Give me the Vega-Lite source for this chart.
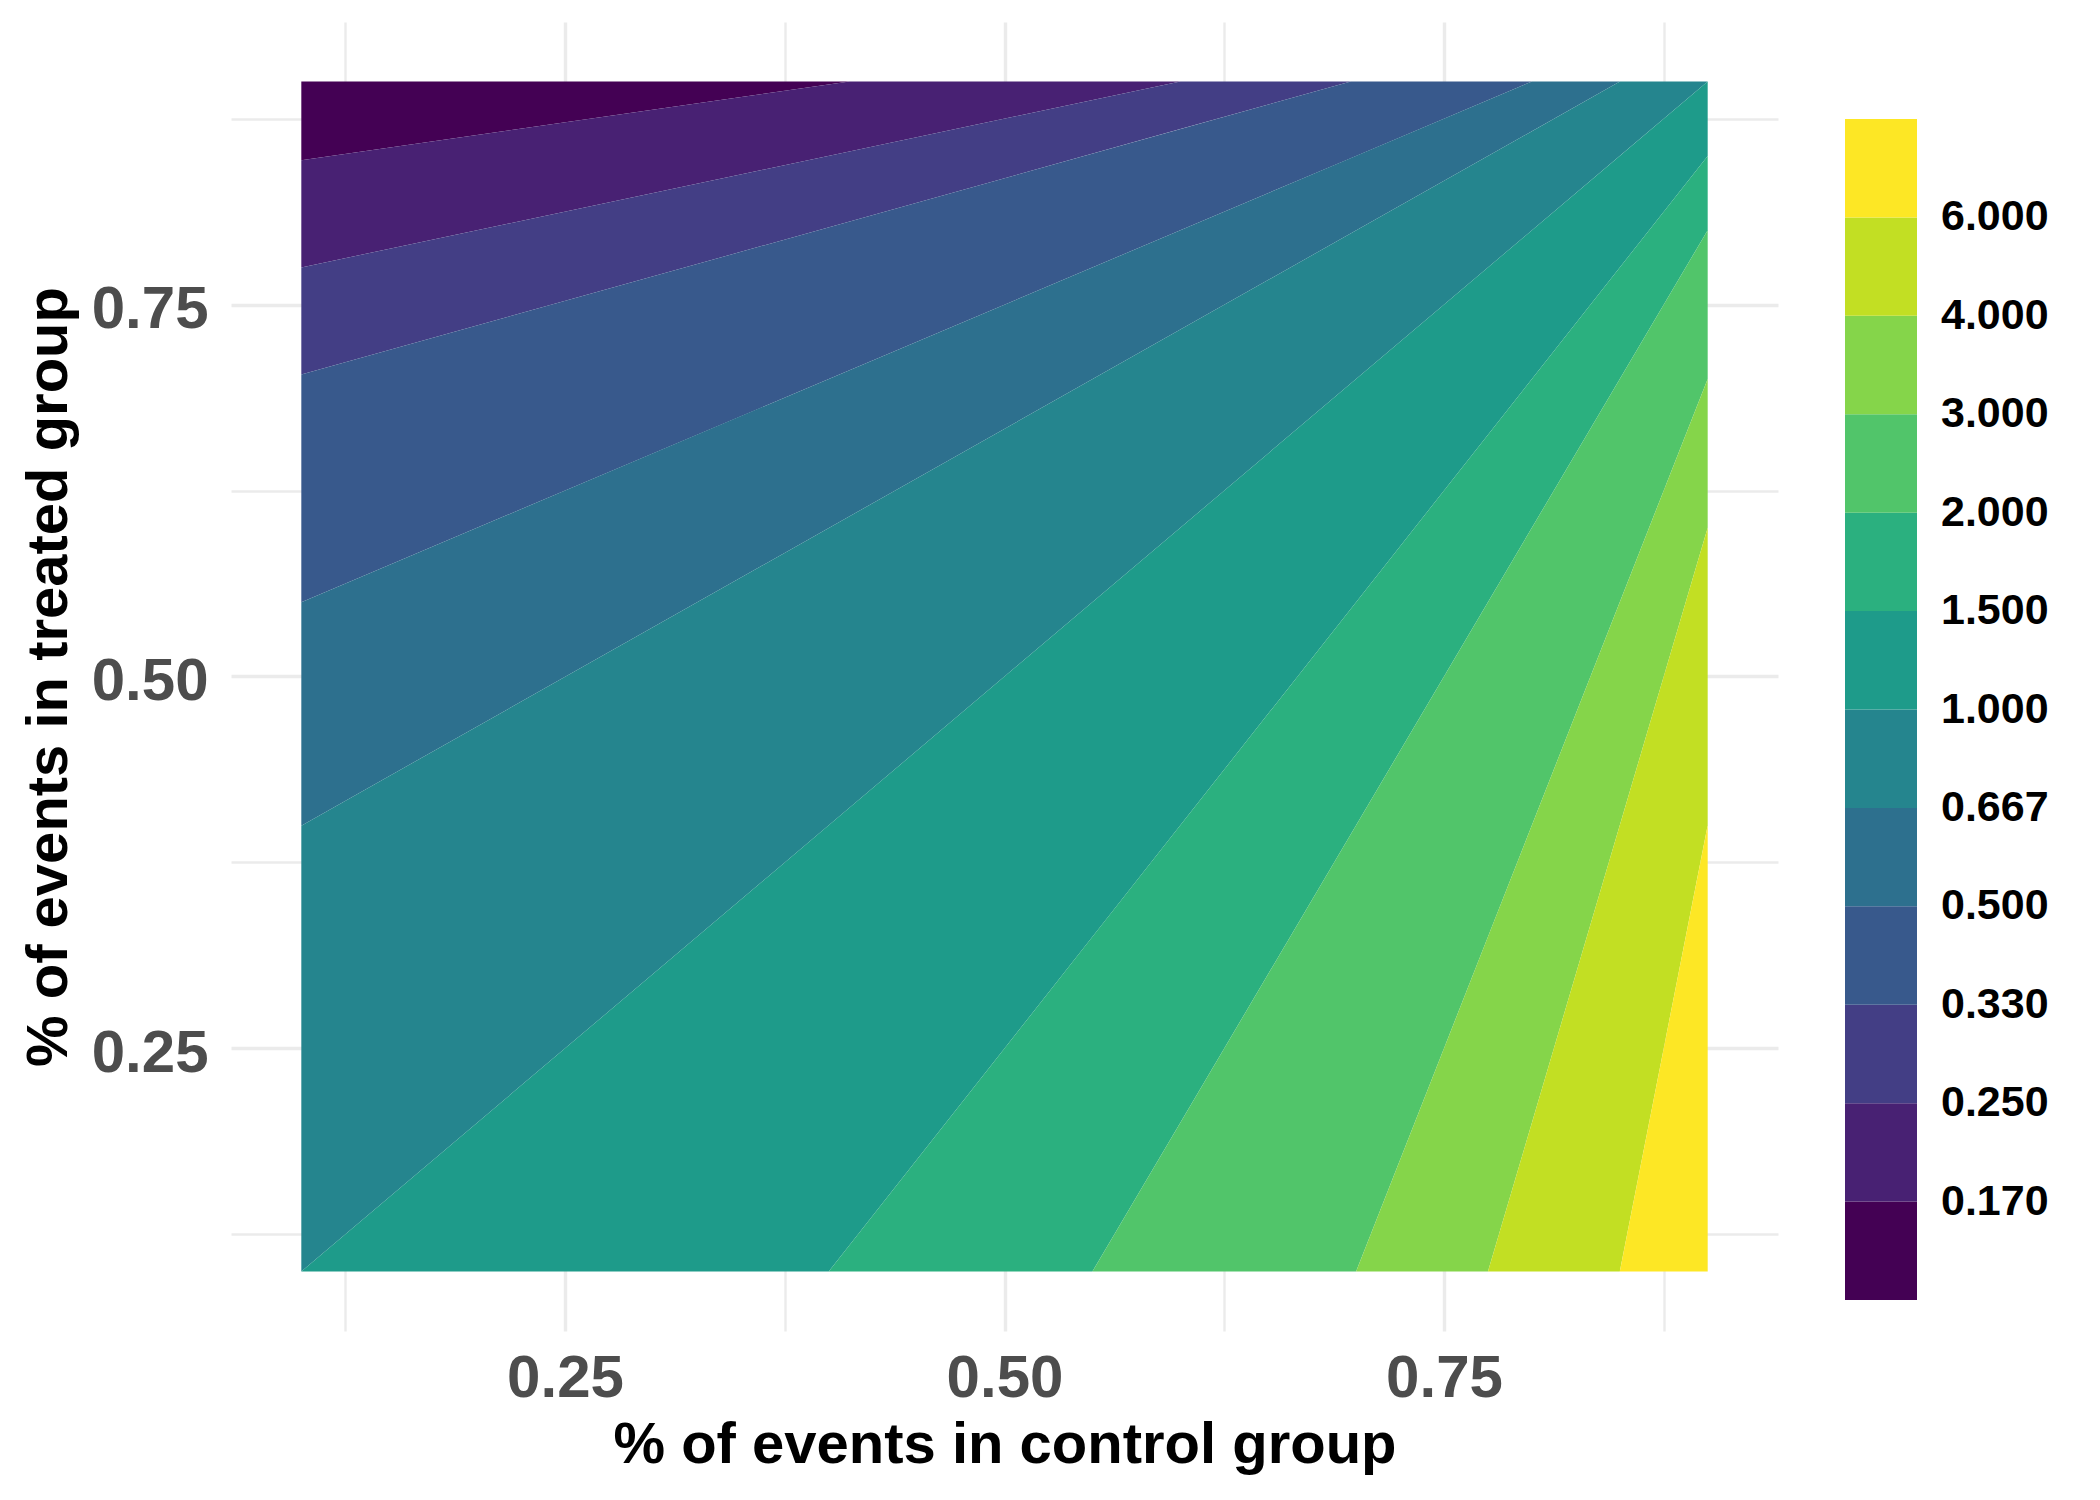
{
  "$schema": "https://vega.github.io/schema/vega-lite/v6.json",
  "width": 1547,
  "height": 1309,
  "autosize": {"type": "none"},
  "padding": {"left": 231, "top": 22, "right": 322, "bottom": 169},
  "background": "white",
  "config": {"view": {"stroke": null}, "font": "Liberation Sans"},
  "data": {
    "values": [
      {"band": 0, "x": 0.1, "ylo": 0.847, "yhi": 0.9},
      {"band": 0, "x": 0.41176, "ylo": 0.9, "yhi": 0.9},
      {"band": 1, "x": 0.1, "ylo": 0.775, "yhi": 0.847},
      {"band": 1, "x": 0.41176, "ylo": 0.85294, "yhi": 0.9},
      {"band": 1, "x": 0.6, "ylo": 0.9, "yhi": 0.9},
      {"band": 2, "x": 0.1, "ylo": 0.703, "yhi": 0.775},
      {"band": 2, "x": 0.6, "ylo": 0.868, "yhi": 0.9},
      {"band": 2, "x": 0.69697, "ylo": 0.9, "yhi": 0.9},
      {"band": 3, "x": 0.1, "ylo": 0.55, "yhi": 0.703},
      {"band": 3, "x": 0.69697, "ylo": 0.84848, "yhi": 0.9},
      {"band": 3, "x": 0.8, "ylo": 0.9, "yhi": 0.9},
      {"band": 4, "x": 0.1, "ylo": 0.3997, "yhi": 0.55},
      {"band": 4, "x": 0.8, "ylo": 0.8666, "yhi": 0.9},
      {"band": 4, "x": 0.85007, "ylo": 0.9, "yhi": 0.9},
      {"band": 5, "x": 0.1, "ylo": 0.1, "yhi": 0.3997},
      {"band": 5, "x": 0.85007, "ylo": 0.85007, "yhi": 0.9},
      {"band": 5, "x": 0.9, "ylo": 0.9, "yhi": 0.9},
      {"band": 6, "x": 0.1, "ylo": 0.1, "yhi": 0.1},
      {"band": 6, "x": 0.4, "ylo": 0.1, "yhi": 0.4},
      {"band": 6, "x": 0.9, "ylo": 0.85, "yhi": 0.9},
      {"band": 7, "x": 0.4, "ylo": 0.1, "yhi": 0.1},
      {"band": 7, "x": 0.55, "ylo": 0.1, "yhi": 0.325},
      {"band": 7, "x": 0.9, "ylo": 0.8, "yhi": 0.85},
      {"band": 8, "x": 0.55, "ylo": 0.1, "yhi": 0.1},
      {"band": 8, "x": 0.7, "ylo": 0.1, "yhi": 0.4},
      {"band": 8, "x": 0.9, "ylo": 0.7, "yhi": 0.8},
      {"band": 9, "x": 0.7, "ylo": 0.1, "yhi": 0.1},
      {"band": 9, "x": 0.775, "ylo": 0.1, "yhi": 0.325},
      {"band": 9, "x": 0.9, "ylo": 0.6, "yhi": 0.7},
      {"band": 10, "x": 0.775, "ylo": 0.1, "yhi": 0.1},
      {"band": 10, "x": 0.85, "ylo": 0.1, "yhi": 0.4},
      {"band": 10, "x": 0.9, "ylo": 0.4, "yhi": 0.6},
      {"band": 11, "x": 0.85, "ylo": 0.1, "yhi": 0.1},
      {"band": 11, "x": 0.9, "ylo": 0.1, "yhi": 0.4}
    ]
  },
  "mark": {"type": "area", "orient": "vertical", "interpolate": "linear"},
  "encoding": {
    "x": {
      "field": "x",
      "type": "quantitative",
      "scale": {"domain": [0.06, 0.94], "nice": false, "zero": false},
      "axis": {
        "title": "% of events in control group",
        "values": [0.125, 0.25, 0.375, 0.5, 0.625, 0.75, 0.875],
        "labelExpr": "(datum.value == 0.25 || datum.value == 0.5 || datum.value == 0.75) ? format(datum.value, '.2f') : ''",
        "ticks": false,
        "domain": false,
        "grid": true,
        "gridColor": "#EBEBEB",
        "gridWidth": {"condition": {"test": "datum.value == 0.25 || datum.value == 0.5 || datum.value == 0.75", "value": 3.4}, "value": 2.4},
        "labelFont": "Liberation Sans",
        "labelFontWeight": "bold",
        "labelFontSize": 60,
        "labelColor": "#4D4D4D",
        "labelBaseline": "alphabetic",
        "labelPadding": 65.6,
        "labelOverlap": false,
        "labelFlush": false,
        "titleFont": "Liberation Sans",
        "titleFontWeight": "bold",
        "titleFontSize": 58,
        "titleColor": "#000000",
        "titleBaseline": "alphabetic",
        "titleY": 131.6
      }
    },
    "y": {
      "field": "ylo",
      "type": "quantitative",
      "stack": null,
      "scale": {"domain": [0.06, 0.94], "nice": false, "zero": false},
      "axis": {
        "title": "% of events in treated group",
        "values": [0.125, 0.25, 0.375, 0.5, 0.625, 0.75, 0.875],
        "labelExpr": "(datum.value == 0.25 || datum.value == 0.5 || datum.value == 0.75) ? format(datum.value, '.2f') : ''",
        "ticks": false,
        "domain": false,
        "grid": true,
        "gridColor": "#EBEBEB",
        "gridWidth": {"condition": {"test": "datum.value == 0.25 || datum.value == 0.5 || datum.value == 0.75", "value": 3.4}, "value": 2.4},
        "labelFont": "Liberation Sans",
        "labelFontWeight": "bold",
        "labelFontSize": 60,
        "labelColor": "#4D4D4D",
        "labelBaseline": "alphabetic",
        "labelOffset": 23.3,
        "labelPadding": 23,
        "labelOverlap": false,
        "labelFlush": false,
        "titleFont": "Liberation Sans",
        "titleFontWeight": "bold",
        "titleFontSize": 58,
        "titleColor": "#000000",
        "titleBaseline": "alphabetic",
        "titleX": -164.4
      }
    },
    "y2": {"field": "yhi"},
    "color": {
      "field": "band",
      "type": "quantitative",
      "scale": {
        "type": "threshold",
        "domain": [1, 2, 3, 4, 5, 6, 7, 8, 9, 10, 11],
        "range": ["#440154", "#482173", "#433E85", "#38598C", "#2D708E", "#25858E", "#1E9B8A", "#2BB07F", "#51C56A", "#85D54A", "#C2DF23", "#FDE725"]
      },
      "legend": {
        "type": "gradient",
        "orient": "none",
        "legendX": 1614,
        "legendY": 97,
        "direction": "vertical",
        "title": null,
        "padding": 0,
        "gradientLength": 1181,
        "gradientThickness": 72,
        "gradientStrokeWidth": 0,
        "labelFont": "Liberation Sans",
        "labelFontWeight": "bold",
        "labelFontSize": 43,
        "labelColor": "#000000",
        "labelOffset": 24,
        "labelOverlap": false,
        "labelLimit": 300,
        "labelExpr": "(datum.value >= 1 && datum.value <= 11) ? ['0.170','0.250','0.330','0.500','0.667','1.000','1.500','2.000','3.000','4.000','6.000'][datum.value - 1] : ''"
      }
    },
    "detail": {"field": "band", "type": "nominal"}
  }
}
